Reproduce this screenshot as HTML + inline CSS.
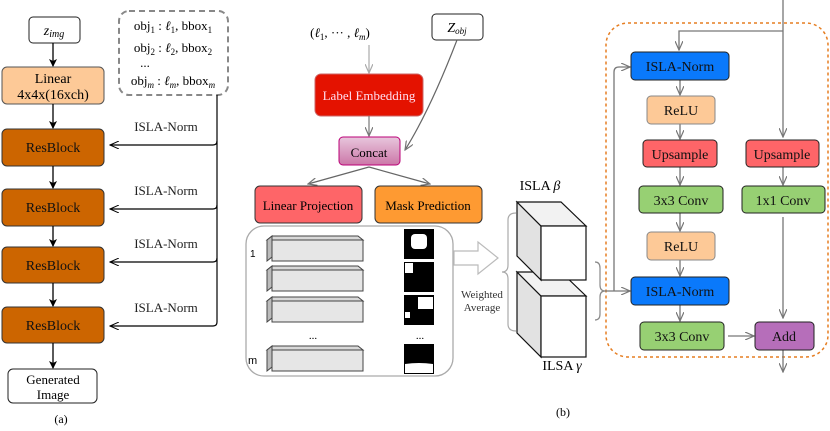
<!DOCTYPE html>
<html><head><meta charset="utf-8"><style>
body{margin:0;background:#fff}
</style></head><body>
<svg width="830" height="426" viewBox="0 0 830 426" xmlns="http://www.w3.org/2000/svg" font-family="Liberation Serif, serif" style="font-family:'Liberation Serif',serif">
<defs>
<marker id="ak" markerWidth="8" markerHeight="8" refX="7" refY="4" orient="auto" markerUnits="userSpaceOnUse"><path d="M0,0 L8,4 L0,8 L2,4z" fill="#000"/></marker>
<marker id="ao" markerWidth="10" markerHeight="8" refX="9" refY="4" orient="auto" markerUnits="userSpaceOnUse"><path d="M0,0 L9,4 L0,8" fill="none" stroke="#000" stroke-width="1"/></marker>
<marker id="ag" markerWidth="10" markerHeight="8" refX="9" refY="4" orient="auto" markerUnits="userSpaceOnUse"><path d="M0,0 L9,4 L0,8" fill="none" stroke="#777" stroke-width="1.2"/></marker>
<marker id="agl" markerWidth="10" markerHeight="8" refX="9" refY="4" orient="auto" markerUnits="userSpaceOnUse"><path d="M0,0 L9,4 L0,8" fill="none" stroke="#aaa" stroke-width="1.2"/></marker>
<linearGradient id="cg" x1="0" y1="0" x2="0" y2="1"><stop offset="0" stop-color="#e8c6dc"/><stop offset="1" stop-color="#cc77a8"/></linearGradient>
</defs>

<!-- (a) -->
<rect x="29" y="17" width="51" height="26" rx="4" fill="#fff" stroke="#222"/>
<text x="54" y="35" font-size="14" font-style="italic" text-anchor="middle">z<tspan font-size="10" dy="2">img</tspan></text>
<rect x="2" y="67" width="102" height="37" rx="5" fill="#fdc997" stroke="#555"/>
<text x="53" y="83" font-size="14" text-anchor="middle">Linear</text>
<text x="53" y="99" font-size="14" text-anchor="middle">4x4x(16xch)</text>
<g fill="#cc6500" stroke="#333">
<rect x="2" y="129" width="102" height="37" rx="5"/>
<rect x="2" y="189" width="102" height="37" rx="5"/>
<rect x="2" y="247" width="102" height="36" rx="5"/>
<rect x="2" y="307" width="102" height="36" rx="5"/>
</g>
<g font-size="14" text-anchor="middle" fill="#111">
<text x="53" y="152">ResBlock</text><text x="53" y="212">ResBlock</text><text x="53" y="270">ResBlock</text><text x="53" y="330">ResBlock</text>
</g>
<rect x="8" y="369" width="89" height="34" rx="5" fill="#fff" stroke="#222"/>
<text x="53" y="384" font-size="13" text-anchor="middle">Generated</text>
<text x="53" y="399" font-size="13" text-anchor="middle">Image</text>
<g stroke="#000" stroke-width="1.3" marker-end="url(#ak)">
<line x1="53" y1="43" x2="53" y2="66"/><line x1="53" y1="104" x2="53" y2="128"/><line x1="53" y1="166" x2="53" y2="188"/><line x1="53" y1="226" x2="53" y2="246"/><line x1="53" y1="283" x2="53" y2="306"/><line x1="53" y1="343" x2="53" y2="368"/>
</g>
<text x="61" y="423" font-size="12" text-anchor="middle">(a)</text>
<rect x="119" y="11" width="109" height="84" rx="10" fill="none" stroke="#888" stroke-width="2" stroke-dasharray="6,4"/>
<g font-size="13" text-anchor="middle">
<text x="173" y="30">obj<tspan font-size="9" dy="3">1</tspan><tspan dy="-3"> : </tspan><tspan font-style="italic">ℓ</tspan><tspan font-size="9" dy="3">1</tspan><tspan dy="-3">, bbox</tspan><tspan font-size="9" dy="3">1</tspan></text>
<text x="173" y="52">obj<tspan font-size="9" dy="3">2</tspan><tspan dy="-3"> : </tspan><tspan font-style="italic">ℓ</tspan><tspan font-size="9" dy="3">2</tspan><tspan dy="-3">, bbox</tspan><tspan font-size="9" dy="3">2</tspan></text>
<text x="145" y="67">...</text>
<text x="173" y="85">obj<tspan font-size="9" font-style="italic" dy="3">m</tspan><tspan dy="-3"> : </tspan><tspan font-style="italic">ℓ</tspan><tspan font-size="9" font-style="italic" dy="3">m</tspan><tspan dy="-3">, bbox</tspan><tspan font-size="9" font-style="italic" dy="3">m</tspan></text>
</g>
<path d="M217,95 V322 Q217,326 213,326" fill="none" stroke="#000" stroke-width="1.2"/>
<g stroke="#000" stroke-width="1.2" fill="none" marker-end="url(#ao)">
<path d="M217,141 Q217,145 213,145 H110"/><path d="M217,205 Q217,209 213,209 H110"/><path d="M217,258 Q217,262 213,262 H110"/><path d="M213,326 H110"/>
</g>
<g font-size="13" text-anchor="middle" fill="#222">
<text x="166" y="131">ISLA-Norm</text><text x="166" y="195">ISLA-Norm</text><text x="166" y="248">ISLA-Norm</text><text x="166" y="312">ISLA-Norm</text>
</g>

<!-- (b) middle -->
<text x="340" y="37" font-size="13" text-anchor="middle">(<tspan font-style="italic">ℓ</tspan><tspan font-size="9" dy="3">1</tspan><tspan dy="-3">, ··· , </tspan><tspan font-style="italic">ℓ</tspan><tspan font-size="9" font-style="italic" dy="3">m</tspan><tspan dy="-3">)</tspan></text>
<rect x="432" y="14" width="51" height="26" rx="4" fill="#fff" stroke="#222"/>
<text x="457" y="32" font-size="14" text-anchor="middle" font-style="italic">Z<tspan font-size="9" dy="2">obj</tspan></text>
<line x1="369" y1="45" x2="369" y2="73" stroke="#aaa" stroke-width="1.2" marker-end="url(#agl)"/>
<rect x="315" y="74" width="108" height="42" rx="6" fill="#e41200" stroke="#c66"/>
<text x="369" y="100" font-size="13" text-anchor="middle" fill="#fde">Label Embedding</text>
<line x1="369" y1="116" x2="369" y2="136" stroke="#777" stroke-width="1.2" marker-end="url(#ag)"/>
<path d="M457,40 Q430,110 405,150" fill="none" stroke="#666" stroke-width="1.2" marker-end="url(#ag)"/>
<rect x="339" y="137" width="61" height="28" rx="4" fill="url(#cg)" stroke="#b07"/>
<text x="369" y="157" font-size="13" text-anchor="middle">Concat</text>
<g stroke="#666" stroke-width="1.2" marker-end="url(#ag)">
<line x1="369" y1="167" x2="308" y2="184"/><line x1="369" y1="167" x2="430" y2="184"/>
</g>
<rect x="255" y="186" width="107" height="37" rx="5" fill="#fe6568" stroke="#333"/>
<text x="308" y="210" font-size="13" text-anchor="middle">Linear Projection</text>
<rect x="375" y="186" width="107" height="37" rx="5" fill="#fe9a32" stroke="#333"/>
<text x="428" y="210" font-size="13" text-anchor="middle">Mask Prediction</text>
<rect x="246" y="226" width="207" height="150" rx="18" fill="#fff" stroke="#aaa" stroke-width="1.3"/>
<g stroke="#444" stroke-width="1" fill="#e6e6e6">
<g><path d="M267,240 L272,236 H358 L363,240 Z" fill="#d8d8d8"/><path d="M267,240 L272,236 V257 L267,261Z" fill="#bbb"/><rect x="272" y="240" width="91" height="21"/></g>
<g><path d="M267,270 L272,266 H358 L363,270 Z" fill="#d8d8d8"/><path d="M267,270 L272,266 V287 L267,291Z" fill="#bbb"/><rect x="272" y="270" width="91" height="21"/></g>
<g><path d="M267,301 L272,297 H358 L363,301 Z" fill="#d8d8d8"/><path d="M267,301 L272,297 V318 L267,322Z" fill="#bbb"/><rect x="272" y="301" width="91" height="21"/></g>
<g><path d="M267,350 L272,346 H358 L363,350 Z" fill="#d8d8d8"/><path d="M267,350 L272,346 V367 L267,371Z" fill="#bbb"/><rect x="272" y="350" width="91" height="21"/></g>
</g>
<text x="250" y="257" font-size="10" style="font-family:'Liberation Sans',sans-serif">1</text>
<text x="248" y="364" font-size="11" style="font-family:'Liberation Sans',sans-serif">m</text>
<text x="313" y="339" font-size="11" text-anchor="middle">...</text>
<text x="420" y="339" font-size="11" text-anchor="middle">...</text>
<rect x="404" y="229" width="30" height="30" fill="#000"/><rect x="411" y="234" width="16" height="15" rx="4" fill="#fff"/>
<rect x="404" y="262" width="30" height="30" fill="#000"/><rect x="405" y="263" width="8" height="10" fill="#fff"/>
<rect x="404" y="295" width="30" height="30" fill="#000"/><rect x="418" y="297" width="15" height="12" fill="#fff"/><rect x="405" y="312" width="5" height="6" fill="#fff"/>
<rect x="404" y="344" width="30" height="30" fill="#000"/><path d="M405,364 Q419,362 433,364 V373 H405Z" fill="#fff"/>
<path d="M454,251 H478 V242 L498,258 L478,274 V265 H454Z" fill="#fff" stroke="#bbb" stroke-width="1.2"/>
<text x="482" y="298" font-size="11" text-anchor="middle" fill="#333">Weighted</text>
<text x="482" y="311" font-size="11" text-anchor="middle" fill="#333">Average</text>
<path d="M516,213 Q508,213 508,220 V265 Q508,272 502,272 Q508,272 508,279 V324 Q508,331 516,331" fill="none" stroke="#aaa" stroke-width="1.2"/>
<text x="540" y="190" font-size="14" text-anchor="middle">ISLA <tspan font-style="italic">β</tspan></text>
<g stroke="#111" stroke-width="1.2">
<path d="M517,272 L541,296 V357 L517,333Z" fill="#e2e2e2"/><path d="M517,272 H561 L586,296 H541Z" fill="#f2f2f2"/><rect x="541" y="296" width="45" height="61" fill="#fff"/>
<path d="M517,202 L541,226 V280 L517,256Z" fill="#e2e2e2"/><path d="M517,202 H561 L586,226 H541Z" fill="#f2f2f2"/><rect x="541" y="226" width="45" height="54" fill="#fff"/>
</g>
<text x="562" y="370" font-size="14" text-anchor="middle">ILSA <tspan font-style="italic">γ</tspan></text>
<path d="M595,262 Q600,262 600,268 V285 Q600,291 605,291 Q600,291 600,297 V314 Q600,320 595,320" fill="none" stroke="#888" stroke-width="1.2"/>
<text x="563" y="416" font-size="12" text-anchor="middle">(b)</text>

<!-- (b) right -->
<rect x="606" y="23" width="222" height="334" rx="22" fill="none" stroke="#e67e22" stroke-width="1.5" stroke-dasharray="3,3"/>
<g stroke="#777" stroke-width="1.3" fill="none" marker-end="url(#ag)">
<path d="M783,0 V137"/><path d="M783,31 H679 V50"/>
<path d="M605,291 H630"/><path d="M614,291 V72 Q614,67 619,67 H630"/>
<path d="M680,80 V95"/><path d="M680,124 V139"/><path d="M680,167 V185"/><path d="M680,213 V231"/><path d="M680,260 V276"/><path d="M680,305 V321"/>
<path d="M783,167 V185"/><path d="M783,217 V318"/><path d="M728,336 H754"/><path d="M783,350 V372"/>
</g>
<g stroke="#222" stroke-width="1">
<rect x="631" y="52" width="98" height="28" rx="4" fill="#0a79fb"/>
<rect x="647" y="96" width="68" height="28" rx="4" fill="#fdc997" stroke="#888"/>
<rect x="643" y="140" width="74" height="27" rx="4" fill="#fe6568"/>
<rect x="639" y="186" width="84" height="27" rx="4" fill="#97d073"/>
<rect x="647" y="232" width="68" height="28" rx="4" fill="#fdc997" stroke="#888"/>
<rect x="631" y="277" width="98" height="28" rx="4" fill="#0a79fb"/>
<rect x="640" y="322" width="84" height="28" rx="4" fill="#97d073"/>
<rect x="746" y="140" width="73" height="27" rx="4" fill="#fe6568"/>
<rect x="742" y="186" width="83" height="27" rx="4" fill="#97d073"/>
<rect x="755" y="322" width="59" height="28" rx="4" fill="#b66eba"/>
</g>
<g font-size="14" text-anchor="middle" fill="#111">
<text x="680" y="71">ISLA-Norm</text><text x="681" y="115">ReLU</text><text x="680" y="159">Upsample</text><text x="681" y="205">3x3 Conv</text><text x="681" y="251">ReLU</text><text x="680" y="296">ISLA-Norm</text><text x="682" y="341">3x3 Conv</text>
<text x="782" y="159">Upsample</text><text x="783" y="205">1x1 Conv</text><text x="784" y="341">Add</text>
</g>
</svg>
</body></html>
